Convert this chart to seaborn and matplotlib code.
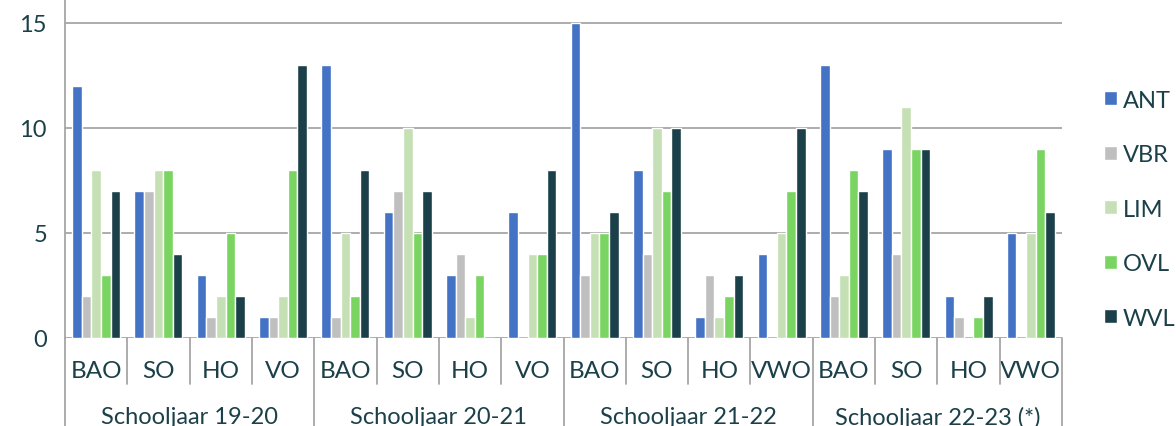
import pandas as pd
import seaborn as sns
import matplotlib.pyplot as plt

# data
jaren = ['Schooljaar 19-20', 'Schooljaar 20-21', 'Schooljaar 21-22', 'Schooljaar 22-23 (*)']
niveaus = [['BAO', 'SO', 'HO', 'VO'],
           ['BAO', 'SO', 'HO', 'VO'],
           ['BAO', 'SO', 'HO', 'VWO'],
           ['BAO', 'SO', 'HO', 'VWO']]
provincies = ['ANT', 'VBR', 'LIM', 'OVL', 'WVL']

ANT = [12, 7, 3, 1, 13, 6, 3, 6, 15, 8, 1, 4, 13, 9, 2, 5]
VBR = [2, 7, 1, 1, 1, 7, 4, 0, 3, 4, 3, 0, 2, 4, 1, 0]
LIM = [8, 8, 2, 2, 5, 10, 1, 4, 5, 10, 1, 5, 3, 11, 0, 5]
OVL = [3, 8, 5, 8, 2, 5, 3, 4, 5, 7, 2, 7, 8, 9, 1, 9]
WVL = [7, 4, 2, 13, 8, 7, 0, 8, 6, 10, 3, 10, 7, 9, 2, 6]

kleuren = ['#4472C4', '#BFBFBF', '#C5E0B4', '#7AD462', '#1B4049']
tekst = '#1B4049'

#%% long format
cat = [f'{j}|{n}' for j, ns in zip(jaren, niveaus) for n in ns]
labels = [n for ns in niveaus for n in ns]
rows = []
for prov, vals in zip(provincies, [ANT, VBR, LIM, OVL, WVL]):
    for c, v in zip(cat, vals):
        rows.append({'cat': c, 'prov': prov, 'aantal': v})
df = pd.DataFrame(rows)

#%% plot
sns.set_style('white')
plt.rcParams['font.family'] = ['Lato', 'DejaVu Sans']

fig = plt.figure(figsize=(11.76, 4.27), dpi=100)
ax = fig.add_axes([65 / 1176, 88 / 427, 997 / 1176, 339 / 427])

sns.barplot(data=df, x='cat', y='aantal', hue='prov', order=cat, hue_order=provincies,
            palette=kleuren, saturation=1, width=0.77, ax=ax)

ax.set_ylim(0, 16.14)
ax.set_xlim(-0.5, len(cat) - 0.5)
ax.set_yticks([0, 5, 10, 15])
ax.yaxis.grid(True, color='#A6A6A6', lw=1.3)
ax.set_axisbelow(True)
for s in ['top', 'right', 'bottom']:
    ax.spines[s].set_visible(False)
ax.spines['left'].set_color('#A6A6A6')
ax.spines['left'].set_linewidth(1.3)
ax.set_xlabel('')
ax.set_ylabel('')
ax.set_xticks(range(len(cat)))
ax.set_xticklabels(labels)
ax.tick_params(axis='x', length=0, pad=16, labelsize=17.5, labelcolor=tekst)
ax.tick_params(axis='y', length=0, pad=13, labelsize=17, labelcolor=tekst)

# separators onder de as
tr = ax.get_xaxis_transform()
for i in range(len(cat) + 1):
    lang = i % 4 == 0
    ax.plot([i - 0.5, i - 0.5], [0, -0.27 if lang else -0.136], transform=tr,
            color='#A6A6A6', lw=1.3, clip_on=False)
for k, j in enumerate(jaren):
    ax.text(k * 4 + 1.5, -0.233, j, transform=tr, ha='center', va='center',
            fontsize=17, color=tekst)

h, l = ax.get_legend_handles_labels()
ax.legend(h, l, loc='center left', bbox_to_anchor=(1.03, 0.38), frameon=False,
          fontsize=17, labelcolor=tekst, handlelength=0.55, handleheight=0.55,
          handletextpad=0.25, labelspacing=1.42, borderpad=0)

fig.savefig('out.png', dpi=100)
